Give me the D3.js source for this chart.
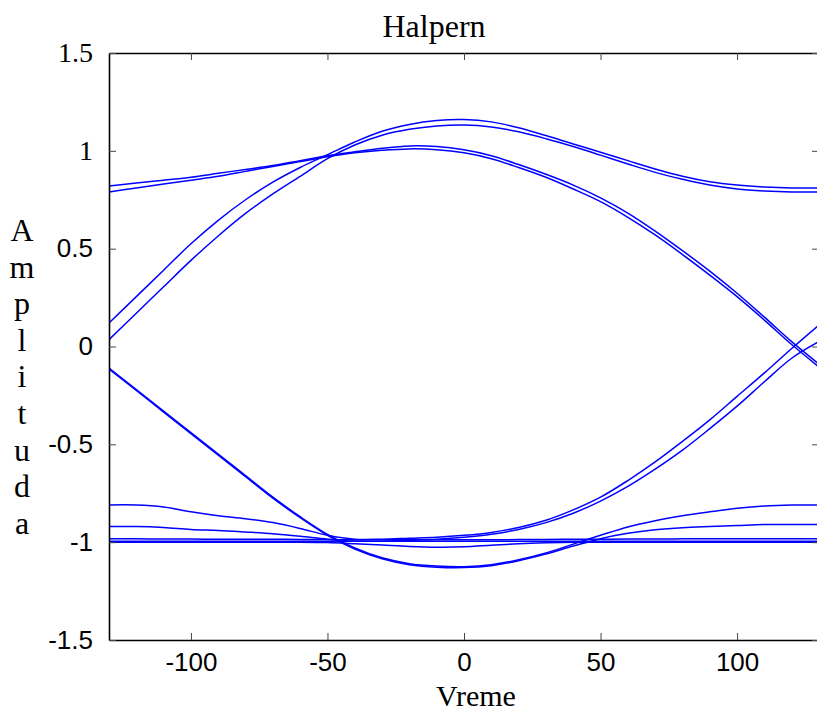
<!DOCTYPE html>
<html>
<head>
<meta charset="utf-8">
<script src="https://cdn.jsdelivr.net/npm/d3@7"></script>
<style>
  html, body { margin: 0; padding: 0; background: #fff; }
  svg { display: block; }
</style>
</head>
<body>
<svg id="chart" width="817" height="713"></svg>
<script>
// ---------------- data ----------------
const titleText = "Halpern";
const xLabelText = "Vreme";
const yLabelText = "Amplituda";
const xTicks = [-100, -50, 0, 50, 100];
const xTickLabels = ["-100", "-50", "0", "50", "100"];
const yTicks = [-1.5, -1, -0.5, 0, 0.5, 1, 1.5];
const yTickLabels = ["-1.5", "-1", "-0.5", "0", "0.5", "1", "1.5"];
const xDomain = [-130, 130];
const yDomain = [-1.5, 1.5];

// sample times (Vreme)
const xs = [-130, -120, -110, -100, -90, -80, -70, -60, -50, -40, -30, -20, -10, 0,
            10, 20, 30, 40, 50, 60, 70, 80, 90, 100, 110, 120, 130];

// upper traces: steep rise -> high peak -> stays high
const traceA1 = [0.12, 0.255, 0.39, 0.525, 0.645, 0.75, 0.84, 0.915, 0.98, 1.045, 1.1, 1.135, 1.155, 1.16,
                 1.148, 1.118, 1.078, 1.035, 0.993, 0.95, 0.907, 0.87, 0.842, 0.825, 0.815, 0.81, 0.81];
const traceA2 = [0.035, 0.17, 0.305, 0.44, 0.565, 0.68, 0.78, 0.87, 0.96, 1.03, 1.08, 1.11, 1.127, 1.132,
                 1.122, 1.097, 1.062, 1.022, 0.978, 0.933, 0.89, 0.855, 0.825, 0.805, 0.795, 0.79, 0.79];
// upper traces: gentle rise -> 1.0 peak -> falls through zero
const traceB1 = [0.82, 0.835, 0.85, 0.865, 0.885, 0.905, 0.925, 0.95, 0.975, 0.995, 1.013, 1.025, 1.022, 1.005,
                 0.975, 0.93, 0.88, 0.825, 0.76, 0.682, 0.59, 0.49, 0.385, 0.272, 0.15, 0.025, -0.09];
const traceB2 = [0.79, 0.81, 0.83, 0.85, 0.87, 0.895, 0.92, 0.945, 0.97, 0.99, 1.003, 1.01, 1.006, 0.99,
                 0.96, 0.915, 0.865, 0.805, 0.74, 0.66, 0.57, 0.47, 0.365, 0.255, 0.135, 0.01, -0.105];
// lower traces: steep fall -> trough -> back up to -0.81 / -0.92
const traceC1 = [-0.11, -0.22, -0.33, -0.44, -0.55, -0.66, -0.77, -0.87, -0.96, -1.03, -1.08, -1.11, -1.122, -1.125,
                 -1.115, -1.09, -1.055, -1.01, -0.965, -0.922, -0.89, -0.865, -0.845, -0.827, -0.815, -0.81, -0.81];
const traceC2 = [-0.115, -0.225, -0.335, -0.445, -0.555, -0.665, -0.775, -0.875, -0.965, -1.035, -1.085, -1.115, -1.128, -1.13,
                 -1.12, -1.095, -1.06, -1.02, -0.982, -0.955, -0.937, -0.926, -0.92, -0.915, -0.91, -0.91, -0.91];
// lower traces: gentle fall -> about -1 -> rises through zero
const traceD1 = [-0.81, -0.81, -0.82, -0.845, -0.865, -0.88, -0.9, -0.93, -0.965, -0.985, -0.985, -0.98, -0.975, -0.965,
                 -0.95, -0.925, -0.888, -0.835, -0.77, -0.685, -0.59, -0.485, -0.375, -0.255, -0.135, -0.01, 0.11];
const traceD2 = [-0.92, -0.92, -0.925, -0.935, -0.94, -0.948, -0.957, -0.97, -0.985, -0.995, -0.995, -0.99, -0.985, -0.975,
                 -0.96, -0.935, -0.9, -0.852, -0.79, -0.715, -0.627, -0.53, -0.42, -0.305, -0.18, -0.06, 0.025];
// flat traces near -1
const traceE1 = [-0.983, -0.983, -0.984, -0.984, -0.985, -0.985, -0.985, -0.986, -0.987, -0.988, -0.988, -0.988, -0.988, -0.988,
                 -0.988, -0.987, -0.986, -0.985, -0.985, -0.984, -0.984, -0.983, -0.983, -0.983, -0.983, -0.983, -0.983];
const traceE2 = [-1.0, -1.0, -1.0, -1.0, -1.0, -1.0, -1.0, -1.0, -1.002, -1.008, -1.015, -1.022, -1.026, -1.024,
                 -1.016, -1.008, -1.003, -1.0, -1.0, -1.0, -1.0, -1.0, -1.0, -1.0, -1.0, -1.0, -1.0];
const traceE3 = [-0.995, -0.995, -0.995, -0.995, -0.995, -0.995, -0.995, -0.995, -0.995, -0.995, -0.995, -0.995, -0.995, -0.995,
                 -0.995, -0.995, -0.995, -0.995, -0.995, -0.995, -0.995, -0.995, -0.995, -0.995, -0.995, -0.995, -0.995];

const traces = [traceA1, traceA2, traceB1, traceB2, traceC1, traceC2, traceD1, traceD2, traceE1, traceE2, traceE3];

// ---------------- drawing ----------------
const svg = d3.select("#chart");
const plotLeft = 109, plotRight = 819, plotTop = 53, plotBottom = 640;

const x = d3.scaleLinear().domain(xDomain).range([plotLeft, plotRight]);
const y = d3.scaleLinear().domain(yDomain).range([plotBottom, plotTop]);

svg.append("defs").append("clipPath").attr("id", "clip")
  .append("rect").attr("x", plotLeft).attr("y", plotTop)
  .attr("width", plotRight - plotLeft).attr("height", plotBottom - plotTop);

const line = d3.line()
  .x((d, i) => x(xs[i]))
  .y(d => y(d))
  .curve(d3.curveCatmullRom.alpha(0.5));

svg.append("g").attr("clip-path", "url(#clip)")
  .selectAll("path").data(traces).join("path")
  .attr("d", d => line(d))
  .attr("fill", "none")
  .attr("stroke", "#0000ff")
  .attr("stroke-width", 1.5);

// axes (ticks inward, box)
const sansFont = "'Liberation Sans', Arial, Helvetica, sans-serif";
const serifFont = "'Liberation Serif', 'Times New Roman', Times, serif";
const tickLen = 7;

const xAxisB = d3.axisBottom(x).tickValues(xTicks).tickSizeInner(-tickLen).tickSizeOuter(0)
  .tickFormat((d, i) => xTickLabels[i]).tickPadding(13);
const gxb = svg.append("g").attr("transform", `translate(0,${plotBottom})`).call(xAxisB);
const xAxisT = d3.axisTop(x).tickValues(xTicks).tickSizeInner(-tickLen).tickSizeOuter(0).tickFormat("");
const gxt = svg.append("g").attr("transform", `translate(0,${plotTop})`).call(xAxisT);

const yAxisL = d3.axisLeft(y).tickValues(yTicks).tickSizeInner(-tickLen).tickSizeOuter(0)
  .tickFormat((d, i) => yTickLabels[i]).tickPadding(tickLen + 9);
const gyl = svg.append("g").attr("transform", `translate(${plotLeft},0)`).call(yAxisL);
const yAxisR = d3.axisRight(y).tickValues(yTicks).tickSizeInner(-tickLen).tickSizeOuter(0).tickFormat("");
const gyr = svg.append("g").attr("transform", `translate(${plotRight},0)`).call(yAxisR);

[gxb, gxt, gyl, gyr].forEach(g => {
  g.select(".domain").attr("stroke", "#000").attr("stroke-width", 1.6);
  g.selectAll(".tick line").attr("stroke", "#444").attr("stroke-width", 1);
  g.selectAll(".tick text").attr("fill", "#000").attr("font-family", sansFont).attr("font-size", 26);
});
// the two top labels of the y axis are set in a serif face in the reference
gyl.selectAll(".tick text").filter(d => d >= 1).attr("font-family", serifFont).attr("font-size", 28);

// title and labels
svg.append("text").attr("x", 434).attr("y", 37).attr("text-anchor", "middle")
  .attr("font-family", serifFont).attr("font-size", 32).attr("fill", "#000").text(titleText);
svg.append("text").attr("x", 476).attr("y", 706).attr("text-anchor", "middle")
  .attr("font-family", serifFont).attr("font-size", 30).attr("fill", "#000").text(xLabelText);

const yl = svg.append("g");
yLabelText.split("").forEach((ch, i) => {
  yl.append("text").attr("x", 22).attr("y", 241 + i * 36.6).attr("text-anchor", "middle")
    .attr("font-family", serifFont).attr("font-size", 32).attr("fill", "#000").text(ch);
});
</script>
</body>
</html>
